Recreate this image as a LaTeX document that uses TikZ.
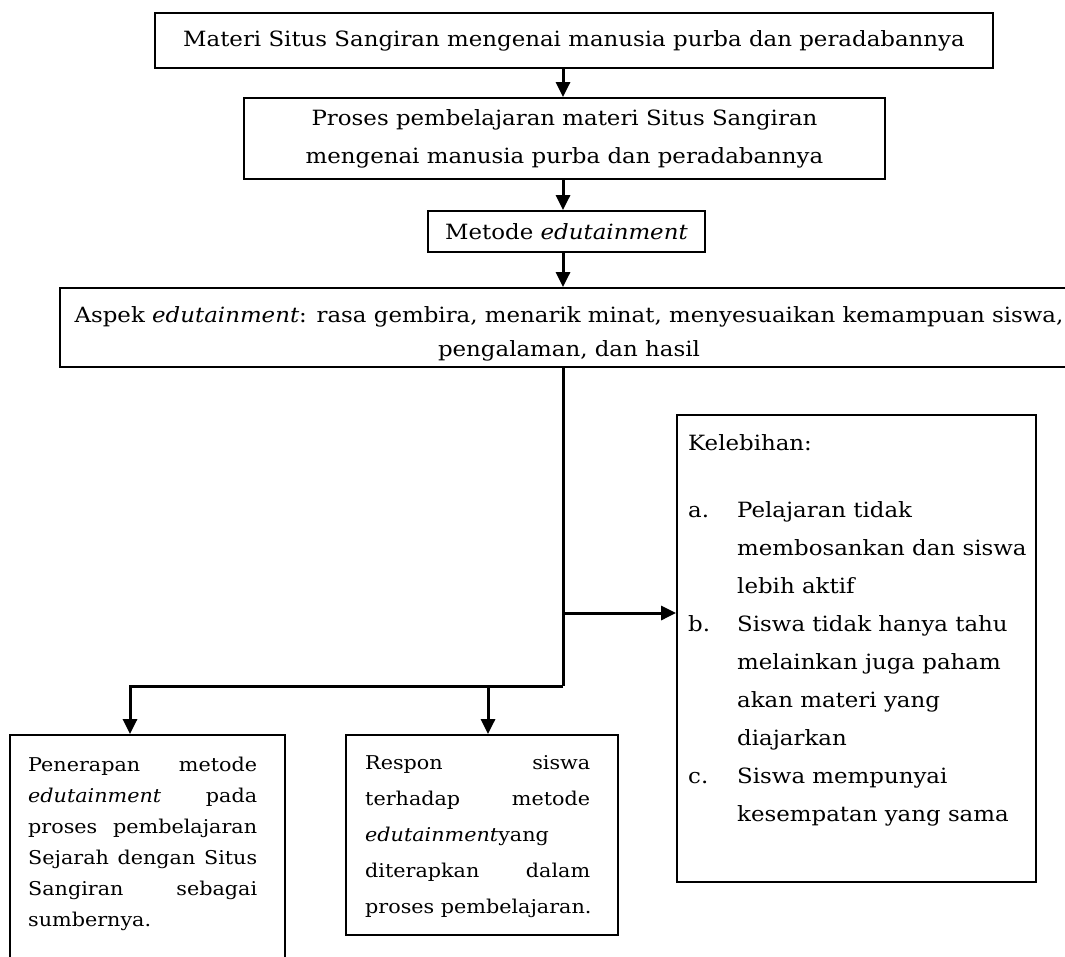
\documentclass[tikz,border=0pt]{standalone}
\usepackage{fontspec}
\setmainfont{DejaVu Serif}[FakeStretch=1.09]
\usetikzlibrary{arrows.meta,calc}
\begin{document}
\begin{tikzpicture}[x=1pt,y=-1pt,
  box/.style={draw,line width=1.8pt,inner sep=0pt,align=center},
  txt/.style={inner sep=0pt,align=left,anchor=north west},
  arr/.style={line width=3pt,-{Triangle[length=15pt,width=14pt]}},
  conn/.style={line width=3pt}]
\useasboundingbox (0,0) rectangle (1065,956);
\coordinate (xm) at (563,0);
\coordinate (xl) at (130,0);
\coordinate (xr) at (488,0);
\coordinate (jk) at (563,613);
\coordinate (jb) at (563,686);

\node[box,minimum width=838pt,minimum height=55pt,font=\fontsize{21}{38}\selectfont] (b1) at (574,40.5)
  {Materi Situs Sangiran mengenai manusia purba dan peradabannya};
\node[box,minimum width=641pt,minimum height=81pt,font=\fontsize{21}{38}\selectfont] (b2) at (564.5,138.5)
  {Proses pembelajaran materi Situs Sangiran\\mengenai manusia purba dan peradabannya};
\node[box,minimum width=277pt,minimum height=41pt,font=\fontsize{21}{38}\selectfont] (b3) at (566.5,231.5)
  {Metode \textit{edutainment}};
\node[box,minimum width=1018pt,minimum height=79pt,font=\fontsize{21}{34}\selectfont] (b4) at (569,327.5)
  {\rule{0pt}{28pt}Aspek \textit{edutainment}: rasa gembira, menarik minat, menyesuaikan kemampuan siswa,\\pengalaman, dan hasil};

\node[box,minimum width=359pt,minimum height=467pt] (kel) at (856.5,648.5) {};
\node[txt,font=\fontsize{21}{38}\selectfont] (keltext) at (688,434)
  {Kelebihan:\\[29pt]
   \makebox[49pt][l]{a.}Pelajaran tidak\\
   \hspace*{49pt}membosankan dan siswa\\
   \hspace*{49pt}lebih aktif\\
   \makebox[49pt][l]{b.}Siswa tidak hanya tahu\\
   \hspace*{49pt}melainkan juga paham\\
   \hspace*{49pt}akan materi yang\\
   \hspace*{49pt}diajarkan\\
   \makebox[49pt][l]{c.}Siswa mempunyai\\
   \hspace*{49pt}kesempatan yang sama};

\node[box,minimum width=275pt,minimum height=260pt] (b5) at (147.5,865) {};
\node[txt,font=\fontsize{19}{31}\selectfont] (b5text) at (28,757)
  {\makebox[229pt][s]{Penerapan\hfill metode}\\
   \makebox[229pt][s]{\textit{edutainment}\hfill pada}\\
   \makebox[229pt][s]{proses\hfill pembelajaran}\\
   \makebox[229pt][s]{Sejarah\hfill dengan\hfill Situs}\\
   \makebox[229pt][s]{Sangiran\hfill sebagai}\\
   sumbernya.};

\node[box,minimum width=272pt,minimum height=200pt] (b6) at (482,835) {};
\node[txt,font=\fontsize{19}{36}\selectfont] (b6text) at (365,755)
  {\makebox[225pt][s]{Respon\hfill siswa}\\
   \makebox[225pt][s]{terhadap\hfill metode}\\
   \textit{edutainment}yang\\
   \makebox[225pt][s]{diterapkan\hfill dalam}\\
   proses pembelajaran.};

\draw[arr] (xm |- b1.south) -- (xm |- b2.north);
\draw[arr] (xm |- b2.south) -- (xm |- b3.north);
\draw[arr] (xm |- b3.south) -- (xm |- b4.north);
\draw[conn] (xm |- b4.south) -- (jb);
\draw[arr] (jk) -- (jk -| kel.west);
\draw[arr] (jb) -- (xl |- jb) -- (xl |- b5.north);
\draw[arr] (xr |- jb) -- (xr |- b6.north);
\end{tikzpicture}
\end{document}
